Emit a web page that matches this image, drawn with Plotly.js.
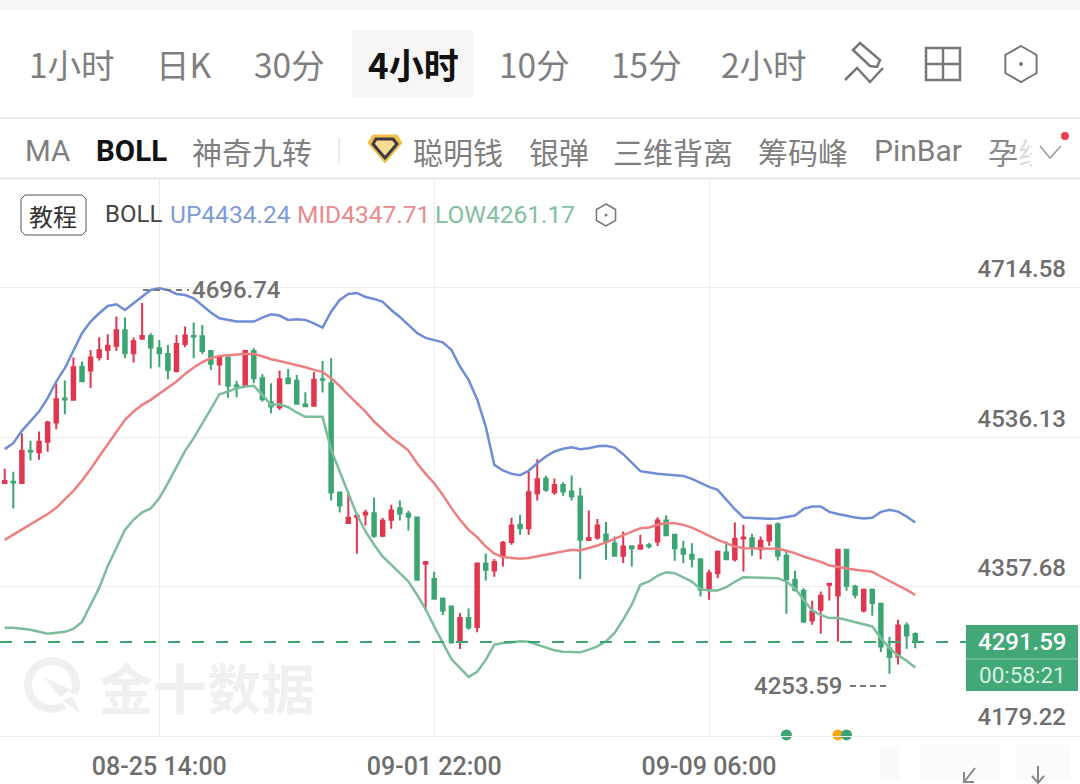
<!DOCTYPE html>
<html><head><meta charset="utf-8">
<script src="https://cdn.plot.ly/plotly-3.0.1.min.js"></script>
<style>html,body{margin:0;padding:0;background:#fff}#c{width:1080px;height:784px}</style>
</head><body><div id="c"></div>
<script>
const open_ = [4481.4,4483,4481.4,4520,4518.4,4530.7,4553.8,4582.5,4580.9,4620.3,
4615.9,4631.8,4640.6,4645.4,4664.1,4636.6,4654.1,4657.3,4642.6,4635.8,
4615.5,4647.7,4657.3,4656.9,4639.4,4623.1,4631.4,4598,4597.6,4639.4,
4606.7,4578.1,4572.1,4606.4,4603.6,4575.3,4573.7,4605.6,4600.8,4470.2,
4433.6,4440.8,4443.9,4445.5,4418.5,4437.6,4451.5,4444.7,4440.4,4385,
4366.7,4343.3,4334.1,4292.3,4320.2,4309.4,4385,4377.1,4393.8,4410.9,
4431.6,4427.6,4469.4,4486.5,4470.6,4479,4471.4,4465.4,4413.3,4416.5,
4420.1,4409.3,4394.6,4406.1,4402.9,4407.3,4411.6,4436.7,4419.6,4402.5,
4395.7,4390.5,4355.9,4373.8,4398.5,4390.5,4415.2,4415.6,4402.5,4412.8,
4432.3,4394.5,4365.8,4352.7,4317.3,4330,4359.9,4347.1,4401.7,4357.9,
4329.2,4353.9,4337.2,4284.2,4274.3,4311.3,4301];
const close_ = [4483.8,4482.2,4520,4519.2,4530.7,4553.8,4581.7,4581.3,4619.9,4603.2,
4631.4,4640.2,4645.4,4664.1,4636.6,4650.9,4657.3,4643.4,4636.6,4616.7,
4647.7,4657.7,4656.5,4639.4,4623.9,4631.8,4597.6,4596.8,4639.4,4606.7,
4581.7,4572.9,4605.6,4600.8,4576.1,4573.3,4604.8,4604.8,4470.2,4454.7,
4440,4442.4,4445.9,4418.5,4436.4,4448.7,4445.1,4441.2,4365.9,4387,
4343.3,4329.3,4291.1,4320.2,4309,4385.4,4377.9,4387,4410.1,4430.8,
4427.6,4470.6,4486.1,4473.4,4479,4471.4,4465.4,4413.7,4415.7,4430.8,
4411.3,4394.6,4405.7,4403.7,4406.9,4406.1,4436.7,4419.2,4403.6,4396.9,
4390.9,4353.9,4373.8,4399.3,4390.5,4414.8,4416.4,4404.4,4412.4,4430.7,
4394.5,4366.6,4353.9,4316.1,4328,4346.7,4361.1,4401.7,4358.7,4347.9,
4353.9,4338,4286.2,4273.5,4311.3,4299.4,4291.59];
const high_ = [4498.5,4494.9,4541.1,4531.9,4543.1,4555.8,4600.8,4604,4631.4,4626.6,
4640.6,4655.7,4659.3,4680.4,4679.2,4655.3,4696.74,4660.5,4652.5,4646.5,
4658.5,4668.4,4673.2,4670.4,4640.6,4633.4,4631.8,4603.6,4640.6,4642.6,
4611.5,4600.8,4615.9,4617.9,4610.7,4590,4614.3,4627.4,4630.6,4471.4,
4471.4,4442.4,4449.5,4464.2,4439.6,4455.5,4460.7,4448.3,4440.4,4387,
4375.5,4344.8,4335.3,4326.1,4331.7,4385.8,4397.4,4390.6,4412.1,4440,
4443.5,4495.3,4510,4490.1,4486.9,4482.5,4490.5,4475.8,4448.7,4438.4,
4434.8,4417.7,4423.6,4406.9,4419.7,4409.7,4440.7,4443.1,4419.6,4412.4,
4409.6,4390.5,4377.8,4400.9,4411.6,4434.3,4431.5,4420.8,4417.6,4431.5,
4434.3,4399.7,4376.6,4355.9,4340.8,4351.9,4361.1,4402.5,4402.5,4359.9,
4355.5,4355.5,4338,4297.4,4318.1,4314.9,4303];
const low_ = [4481.4,4451.1,4481.4,4508.4,4509.2,4518.8,4545.9,4563.8,4580.9,4603.2,
4595.2,4627.8,4628.6,4639.4,4630.6,4625.5,4652.5,4618.3,4619.9,4605.6,
4613.5,4643.8,4630.6,4635.8,4616.7,4598.4,4583.3,4584.1,4596.8,4600.8,
4578.9,4565,4568.9,4600,4574.9,4572.1,4572.9,4589.6,4460.7,4446.3,
4433.6,4397,4430.8,4416.1,4416.9,4426.8,4436.8,4424.8,4365.9,4329.3,
4342.1,4323.8,4289.5,4283.2,4306.2,4303.1,4365.1,4369.5,4381.9,4407.7,
4419.7,4419.7,4460.6,4471,4467.4,4466.2,4460.7,4366.7,4412.5,4413.7,
4389.8,4393.8,4385.8,4381.9,4401.8,4403.4,4406.4,4418.4,4388.5,4385.7,
4381,4345.9,4342,4367.8,4389.7,4387.7,4375.8,4394.5,4390.5,4406.4,
4388.9,4325.2,4351.9,4314.1,4312.1,4301.4,4341.2,4292.2,4352.7,4343.9,
4326.8,4322.9,4279.5,4253.59,4264.7,4283.5,4284.2];
const bollUp = [4522,4529.1,4543.9,4555,4566.9,4582.9,4602.8,4618.7,4640.6,4660.5,
4674.4,4684.4,4693.1,4695.1,4688.3,4696.3,4705.1,4712.2,4714.2,4712.2,
4707.4,4706.2,4702.3,4694.3,4685.2,4678.4,4676.4,4674.4,4674.4,4674.4,
4679.2,4683.2,4681.6,4676.4,4677.2,4676.4,4672.4,4667.2,4686.3,4700.2,
4707.4,4708.6,4703.8,4701.5,4697.9,4688.3,4680,4670.4,4660.8,4654.9,
4652.5,4649.7,4640.6,4620.7,4604.7,4581.7,4549,4503.2,4496.5,4492.5,
4490.9,4496.1,4505.2,4513.2,4519.2,4522.4,4524.3,4522,4523.1,4525.5,
4525.9,4523.9,4516,4506.4,4495.7,4494.1,4492.5,4491.8,4491.2,4490,
4486.5,4481.7,4476.9,4473.3,4461.4,4450.2,4440.3,4439.5,4439.1,4438.7,
4439.1,4440.7,4442.7,4450.6,4453.4,4453.4,4447,4444.6,4442.3,4440.3,
4439.1,4439.9,4447,4449.4,4447.4,4441.5,4434.24];
const bollMid = [4413.6,4419.6,4426.5,4431.6,4437.6,4444.4,4451.9,4461.5,4472.2,4484.6,
4498.1,4513.2,4528.3,4543.1,4557,4566.9,4574.9,4580.9,4588,4594.8,
4602.8,4611.9,4619.5,4625.9,4630.6,4633.4,4634.6,4635,4635.8,4635.8,
4633,4629.4,4627.4,4625.1,4623.1,4619.9,4616.7,4614.3,4606.7,4597.6,
4586.8,4576.9,4566.9,4555,4545,4535.9,4528.3,4520.3,4505.2,4492.5,
4481.3,4467.3,4451.5,4437.6,4425.5,4416.9,4405.7,4397,4393,4391.8,
4391,4391.8,4393.8,4396.1,4398.5,4400.1,4401.8,4400.9,4403.7,4406.9,
4410.5,4414.9,4418.8,4422.8,4427.6,4428.4,4431.6,4433.5,4433.5,4431.5,
4428.3,4423.5,4418.4,4413.6,4409.6,4405.6,4403.6,4403.3,4403.6,4403.3,
4402.9,4400.5,4397.7,4393.7,4390.5,4387.3,4383,4381,4379.8,4377.8,
4376.6,4375.4,4369.8,4364.6,4359.1,4353.9,4347.71];
const bollLow = [4308.5,4308.5,4307.3,4306.1,4303.7,4301.3,4302.5,4303.7,4307.3,4315.6,
4335.9,4356.2,4382.5,4404,4425.5,4437.6,4446.4,4451.1,4463.5,4481.4,
4501.3,4520,4535.1,4553,4570.9,4587.6,4590.8,4594.8,4596.8,4597.6,
4586.8,4574.9,4575.7,4572.1,4565.8,4560.6,4560.6,4560.6,4521.2,4495.3,
4469.4,4443.5,4423.6,4407.7,4393.8,4383.8,4373.9,4363.9,4348,4330.9,
4310.2,4290.3,4271.2,4260.7,4249.9,4255.9,4270.2,4288.3,4290.3,4291.1,
4292.3,4291.9,4288.3,4284.3,4281.6,4280,4279.2,4279.2,4282.4,4286.3,
4292.3,4302.3,4318.2,4336.1,4360,4363.9,4370.7,4375,4373.8,4369,
4363.8,4354.7,4353.1,4353.1,4357.1,4363.5,4369,4368.6,4368.6,4368.6,
4367.8,4363.8,4355.9,4342,4329.2,4324,4320.1,4320.5,4317.7,4314.9,
4312.5,4310.1,4296.2,4284.2,4275.5,4269.1,4261.17];
const priceTicks = [4714.58,4536.13,4357.68,4179.22];
const timeTickIdx = [18,50,82];
const timeTickText = ['08-25 14:00','09-01 22:00','09-09 06:00'];
const lastPrice = 4291.59, countdown = '00:58:21';
const signalIdx = [91,97,98];
const signalVal = [4180.5,4180.5,4180.5];
const tabs = [['1小时',72],['日K',184],['30分',289],['4小时',413],['10分',534],['15分',646],['2小时',764]];
const indicators = [['MA',47],['BOLL',131],['神奇九转',252],['聪明钱',458],['银弹',559],['三维背离',673],['筹码峰',803],['PinBar',918]];

const W=1080,H=784;
const X=v=>v/W, Y=v=>1-v/H;
const xs=open_.map((_,i)=>i);
const RED='#e0364f',GREEN='#3ca571',NUM='Roboto, "Noto Sans", sans-serif',CJK='"Noto Sans CJK SC", sans-serif';
const poly=(pts,close)=>'M'+pts.map(p=>X(p[0])+','+Y(p[1])).join(' L')+(close?' Z':'');
const P=(pts,o={})=>({type:'path',xref:'paper',yref:'paper',path:poly(pts,o.close),line:{color:o.color||'#777',width:o.width===undefined?2:o.width},fillcolor:o.fill||'rgba(0,0,0,0)',layer:o.layer||'above'});
const R=(x0,y0,x1,y1,fill,layer)=>({type:'rect',xref:'paper',yref:'paper',x0:X(x0),x1:X(x1),y0:Y(y1),y1:Y(y0),fillcolor:fill,line:{width:0},layer:layer||'below'});
const hex=(cx,cy,r,c,w)=>{const d=r*0.87;return P([[cx,cy-r],[cx+d,cy-r/2],[cx+d,cy+r/2],[cx,cy+r],[cx-d,cy+r/2],[cx-d,cy-r/2]],{close:true,color:c,width:w});};
const dot=(cx,cy,r,c,layer)=>({type:'circle',xref:'paper',yref:'paper',x0:X(cx-r),x1:X(cx+r),y0:Y(cy+r),y1:Y(cy-r),fillcolor:c,line:{width:0},layer:layer||'above'});
const A=(t,x,y,size,color,o={})=>Object.assign({text:t,x:X(x),y:Y(y),xref:'paper',yref:'paper',showarrow:false,xanchor:o.anchor||'center',yanchor:'middle',font:{family:o.family||CJK,size,color,weight:o.weight||400},borderpad:0},o.extra||{});

const traces=[
 {type:'candlestick',x:xs,open:open_,high:high_,low:low_,close:close_,whiskerwidth:0,
  increasing:{line:{color:RED,width:2},fillcolor:RED},decreasing:{line:{color:GREEN,width:2},fillcolor:GREEN},showlegend:false,hoverinfo:'skip'},
 {type:'scatter',mode:'lines',x:xs,y:bollUp,line:{color:'#6f8ed6',width:2.5},showlegend:false,hoverinfo:'skip'},
 {type:'scatter',mode:'lines',x:xs,y:bollMid,line:{color:'#ee7f80',width:2.5},showlegend:false,hoverinfo:'skip'},
 {type:'scatter',mode:'lines',x:xs,y:bollLow,line:{color:'#7cbd9c',width:2.5},showlegend:false,hoverinfo:'skip'},
 {type:'scatter',mode:'markers',x:signalIdx,y:signalVal,cliponaxis:false,marker:{size:11,color:[GREEN,'#f5a81c',GREEN]},showlegend:false,hoverinfo:'skip'}
];

const ring=[];
for(let a=58;a<=382;a+=12){ring.push([52+24*Math.cos(a*Math.PI/180),685+24*Math.sin(a*Math.PI/180)]);}

const shapes=[
 R(0,0,1080,10,'#f6f6f6'),
 R(352,30,473,97,'#f6f6f6'),
 R(0,117,1080,119,'#e9e9e9'),
 R(0,177,1080,180,'#eeeeee'),
 R(338.5,138,340,163,'#e6e6e6'),
 // faint image stamp in the bottom-right corner
 R(880,745,900,780,'#fafafa'),R(920,745,1000,780,'#fbfbfb'),R(1015,745,1070,780,'#fbfbfb'),
 {type:'line',xref:'x',yref:'y',x0:-0.55,x1:112,y0:lastPrice,y1:lastPrice,line:{color:GREEN,width:2,dash:'12px,12px'},layer:'above'},
 R(966,625,1078,691,'#43a878','above'),
 R(966,658.5,1078,659.5,'#8fcfb0','above'),
 // toolbar icons
 P([[860,43],[880,60],[877,67],[870,66],[853,50]],{close:true,color:'#777',width:2.5}),
 P([[845,80],[857,68],[870,82],[883,68]],{color:'#777',width:2.5}),
 {type:'rect',xref:'paper',yref:'paper',x0:X(926),x1:X(960),y0:Y(80),y1:Y(48),line:{color:'#777',width:2.5},layer:'above'},
 P([[943,48],[943,80]],{width:2.5}),P([[926,64],[960,64]],{width:2.5}),
 hex(1021,64,18,'#777',2),dot(1021,64,2,'#777'),
 // smart-money badge
 P([[373,135],[397,135],[402,143],[385,163],[368,143]],{close:true,color:'#f2bf4a',fill:'#f2bf4a',width:1}),
 P([[376,139],[393,139],[397,144],[385,158],[373,144]],{close:true,color:'#3c3a44',fill:'#f6dc92',width:3}),
 // chevron + red dot
 P([[1040,146],[1050,158],[1061,146]],{color:'#999',width:1.5}),
 dot(1065,136,4,'#e8404f'),
 // tutorial box
 {type:'path',xref:'paper',yref:'paper',path:poly([[25,195],[82,195],[86,199],[86,231],[82,235],[25,235],[21,231],[21,199]],true),line:{color:'#555',width:1},layer:'above'},
 hex(606,215,11,'#777',1.5),dot(606,215,1.5,'#777'),
 // high/low dashes
 {type:'line',xref:'paper',yref:'paper',x0:X(143),x1:X(189),y0:Y(290),y1:Y(290),line:{color:'#777',width:2,dash:'6px,5px'},layer:'above'},
 {type:'line',xref:'paper',yref:'paper',x0:X(850),x1:X(886),y0:Y(686),y1:Y(686),line:{color:'#777',width:2,dash:'6px,4px'},layer:'above'},
 // brand watermark logo
 P(ring,{color:'#f0f0f0',width:8,layer:'below'}),
 P([[45,678],[70,690],[60,697]],{close:true,color:'#f0f0f0',fill:'#f0f0f0',width:1,layer:'below'}),
 P([[63,700],[72,697],[80,713]],{close:true,color:'#f0f0f0',fill:'#f0f0f0',width:1,layer:'below'}),
 // corner arrows
 P([[975,768],[964,782]],{color:'#888',width:2}),P([[964,772],[964,782],[974,782]],{color:'#888',width:2}),
 P([[1038,766],[1038,783]],{color:'#888',width:2}),P([[1032,776],[1038,783],[1044,776]],{color:'#888',width:2})
];

const annotations=[];
tabs.forEach(t=>{const act=t[0]==='4小时';annotations.push(A(t[0],t[1],64,act?35:33.5,act?'#111':'#7f7f7f',{weight:act?700:400}));});
indicators.forEach(t=>{const b=t[0]==='BOLL';const lat=/^[A-Za-z]/.test(t[0]);annotations.push(A(t[0],t[1],151,lat?(t[0]==='PinBar'?30:29.5):30,b?'#111':'#7f7f7f',{weight:b?700:400,family:lat?NUM:CJK}));});
annotations.push(A('孕',1003,151,30,'#888'));
annotations.push(A('线',1017,151,30,'#dddddd',{anchor:'left',extra:{width:14,height:36,align:'left'}}));
annotations.push(A('教程',53,215,24,'#333'));
annotations.push(A('BOLL',104,214,24,'#444',{anchor:'left',family:NUM}));
annotations.push(A('UP4434.24',169,214,24.5,'#7f9bd8',{anchor:'left',family:NUM}));
annotations.push(A('MID4347.71',296,214,24.5,'#ea8a8d',{anchor:'left',family:NUM}));
annotations.push(A('LOW4261.17',434,214,24.5,'#82c0a2',{anchor:'left',family:NUM}));
annotations.push(A('4696.74',191,290,24,'#707070',{anchor:'left',family:NUM,weight:500}));
annotations.push(A('4253.59',753,686,24,'#707070',{anchor:'left',family:NUM,weight:500}));
annotations.push(A('4291.59',1022,642,24,'#ffffff',{family:NUM,weight:500}));
annotations.push(A(countdown,1022,675,22.5,'#d6efe2',{family:NUM}));
annotations.push(A('金十数据',207,686,54,'#f0f0f0',{weight:700}));

Plotly.newPlot('c',traces,{
 width:W,height:H,margin:{l:0,r:0,t:0,b:0},paper_bgcolor:'#fff',plot_bgcolor:'rgba(0,0,0,0)',
 showlegend:false,boxgap:0.42,dragmode:false,
 xaxis:{domain:[0,1],range:[-0.547,125.18],rangeslider:{visible:false},tickmode:'array',tickvals:timeTickIdx,ticktext:timeTickText,
  showgrid:true,gridcolor:'#eeeeee',gridwidth:1,zeroline:false,showline:true,linecolor:'#eeeeee',linewidth:1,ticks:'',
  tickfont:{family:NUM,size:25,color:'#6e6e6e',weight:500},ticklabelstandoff:8},
 yaxis:{domain:[(H-736)/H,(H-180)/H],range:[4179.22,4843.6],side:'right',tickmode:'array',tickvals:priceTicks,ticktext:priceTicks.map(v=>v.toFixed(2)),
  ticklabelposition:'inside',ticklabelstandoff:11,ticklabelshift:-19,showgrid:true,gridcolor:'#eeeeee',gridwidth:1,zeroline:false,showline:false,ticks:'',
  tickfont:{family:NUM,size:24,color:'#6e6e6e',weight:500}},
 shapes,annotations
},{displayModeBar:false,staticPlot:true});
</script></body></html>
